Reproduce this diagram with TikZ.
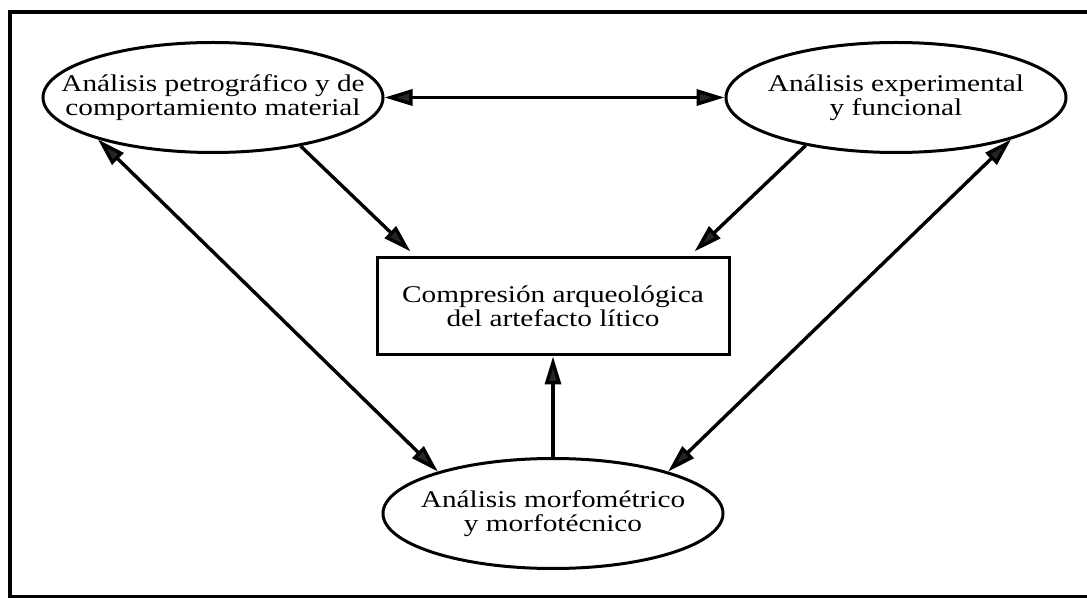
\documentclass[tikz,border=0pt]{standalone}
\usepackage{fontspec}
\setmainfont{Liberation Serif}[FakeStretch=1.22]
\usetikzlibrary{shapes.geometric,arrows.meta}

\tikzset{
  bubble/.style={ellipse,draw,line width=1.5pt,minimum width=170pt,minimum height=55pt,inner sep=0pt},
  caption/.style={align=center,inner sep=0pt,font=\fontsize{12}{11.8}\selectfont},
  panel/.style={rectangle,draw,line width=1.5pt,minimum width=176pt,minimum height=48.5pt,inner sep=0pt,caption},
  link/.style={line width=1.7pt,-{Triangle[length=14pt,width=8pt,fill=black!85]}},
  duallink/.style={line width=1.7pt,{Triangle[length=14pt,width=8pt,fill=black!85]}-{Triangle[length=14pt,width=8pt,fill=black!85]}}
}

\begin{document}
\begin{tikzpicture}[x=0.5pt,y=-0.5pt]
    \useasboundingbox (0,0) rectangle (1087,598);
    % frame
    \draw[line width=2pt] (1087,12) -- (10,12) -- (10,598);
    \draw[line width=1.2pt] (10,596.5) -- (1087,596.5);

    % ellipses and box
    \node[bubble,label={[caption]center:Análisis petrográfico y de\\comportamiento material}] (petro) at (213,97.5) {};
    \node[bubble,label={[caption]center:Análisis experimental\\y funcional}] (exper) at (896,97.5) {};
    \node[bubble,label={[caption]center:Análisis morfométrico\\y morfotécnico}] (morfo) at (553,513.5) {};
    \node[panel] (comp) at (553,306.5) {Compresión arqueológica\\del artefacto lítico};

    % connectors
    \draw[duallink] (petro) -- (exper);
    \draw[link] (petro.-29) -- ([xshift=17.5pt,yshift=2.5pt]comp.north west);
    \draw[link] (exper.208) -- ([xshift=-18pt,yshift=2.5pt]comp.north east);
    \draw[link] (morfo) -- (comp);
    \draw[duallink] (petro.200) -- (morfo.160);
    \draw[duallink] (exper.-20) -- (morfo.20);
\end{tikzpicture}
\end{document}
